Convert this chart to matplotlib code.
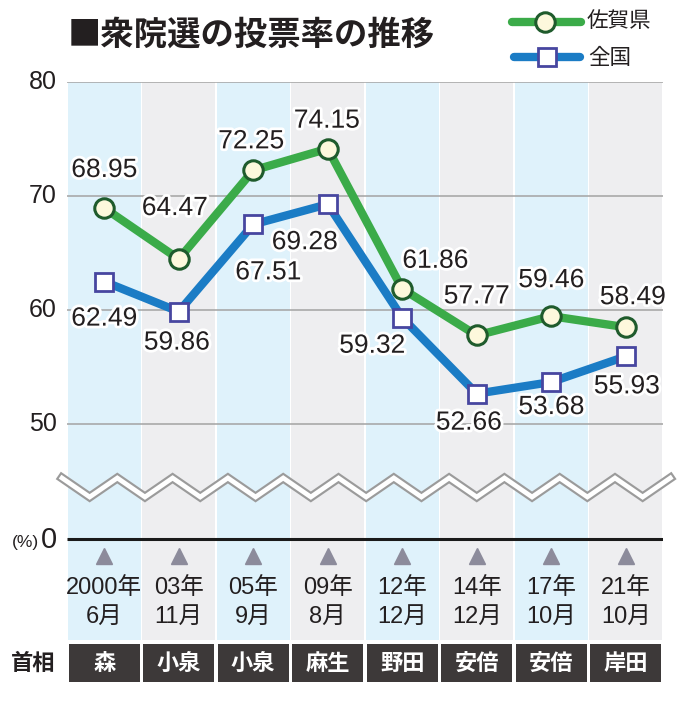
import numpy as np
import matplotlib.pyplot as plt
import matplotlib.patheffects as pe
from matplotlib.lines import Line2D

# ----- data -----
years = ["2000年", "03年", "05年", "09年", "12年", "14年", "17年", "21年"]
months = ["6月", "11月", "9月", "8月", "12月", "12月", "10月", "10月"]
prime_ministers = ["森", "小泉", "小泉", "麻生", "野田", "安倍", "安倍", "岸田"]
saga = [68.95, 64.47, 72.25, 74.15, 61.86, 57.77, 59.46, 58.49]
national = [62.49, 59.86, 67.51, 69.28, 59.32, 52.66, 53.68, 55.93]
y_ticks = [50, 60, 70, 80]

# label offsets from each point, in pixels (dx right, dy down)
saga_offsets = [(0, -38), (-4, -51), (-2, -29), (-1, -28),
                (33, -28), (0, -39), (0, -36), (7, -30)]
national_offsets = [(0, 37), (-2, 31), (15, 48), (-23, 38),
                    (-30, 28), (-8, 29), (0, 25), (1, 30)]

CJK = ["Noto Sans CJK JP", "DejaVu Sans"]
NUM = ["Liberation Sans", "Noto Sans CJK JP", "DejaVu Sans"]
TXT = "#231f20"

# pixel helpers (layout: 80 at y=82 px, 11.4 px per point)
def py(pixel):
    return 80 - (pixel - 82) / 11.4

def px(pixel):
    return (pixel - 67) / 74.5 - 0.5

fig = plt.figure(figsize=(6.8, 7.08), dpi=100)
ax = fig.add_axes([67 / 680, 1 - 682 / 708, 596 / 680, 600 / 708])
ax.set_xlim(-0.5, 7.5)
ax.set_ylim(py(682), 80)
ax.axis("off")

x = np.arange(len(years))

# alternating column backgrounds
col_colors = ["#dff2fb" if i % 2 == 0 else "#eeeef0" for i in x]
ax.bar(x, 80 - py(640), bottom=py(640), width=0.975, color=col_colors, zorder=0)

# prime minister boxes
ax.bar(x, py(644) - py(682), bottom=py(682), width=0.955, color="#3d3939", zorder=0)
for i, name in enumerate(prime_ministers):
    ax.text(i, py(663), name, ha="center", va="center", color="white",
            fontsize=16, fontweight="bold", family=CJK)

# grid lines
ax.hlines(y_ticks, -0.5, 7.5, color="#a3a3a3", lw=1.1, zorder=1)
for v in y_ticks:
    ax.text(px(57), v, str(v), ha="right", va="center", fontsize=18,
            family=NUM, color=TXT)

# zigzag break mark
period = 55.3
zx = [px(62 + k * period / 2) for k in range(23)]
zy = [py(478) if k % 2 == 0 else py(497) for k in range(23)]
ax.plot(zx, zy, color="#9b9b9b", lw=6.5, solid_joinstyle="miter", clip_on=False, zorder=2)
ax.plot(zx, zy, color="white", lw=3.4, solid_joinstyle="miter", clip_on=False, zorder=2)

# zero line
ax.hlines(py(539), -0.5, 7.5, color="#1a1a1a", lw=2.2, zorder=2)
ax.text(px(57), py(548), "0", ha="right", va="baseline", fontsize=21,
        family=NUM, color=TXT)
ax.text(px(39), py(547), "(%)", ha="right", va="baseline", fontsize=12.5,
        family=NUM, color=TXT)

# triangles and dates
ax.plot(x, [py(556)] * len(x), linestyle="none", marker="^", ms=11,
        color="#8c8b9b", zorder=2)
for i in x:
    ax.text(i, py(588), years[i], ha="center", va="center", fontsize=17,
            family=NUM, color=TXT)
    ax.text(i, py(617), months[i], ha="center", va="center", fontsize=17,
            family=NUM, color=TXT)

# lines
ax.plot(x, national, color="#1b7cc5", lw=6, zorder=3, solid_joinstyle="round")
ax.plot(x, national, linestyle="none", marker="s", ms=13, mfc="white",
        mec="#4746a0", mew=2, zorder=4)
ax.plot(x, saga, color="#3bab49", lw=6, zorder=3, solid_joinstyle="round")
ax.plot(x, saga, linestyle="none", marker="o", ms=14, mfc="#fdf8dc",
        mec="#1f5b2c", mew=2.2, zorder=4)

halo = [pe.withStroke(linewidth=4, foreground="white")]
for vals, offs in [(saga, saga_offsets), (national, national_offsets)]:
    for i, v in enumerate(vals):
        dx, dy = offs[i]
        ax.annotate(f"{v:.2f}", (i, v), xytext=(dx * 0.72, -dy * 0.72),
                    textcoords="offset points", ha="center", va="center",
                    fontsize=19, family=NUM, color=TXT, path_effects=halo,
                    zorder=5)

# overlay in pixel coordinates for title and legend
ov = fig.add_axes([0, 0, 1, 1])
ov.set_xlim(0, 680)
ov.set_ylim(708, 0)
ov.axis("off")

ov.text(68, 35, "■衆院選の投票率の推移", ha="left", va="center", fontsize=24,
        fontweight="bold", family=CJK, color=TXT)
ov.text(33, 663, "首相", ha="center", va="center", fontsize=16,
        fontweight="bold", family=CJK, color=TXT)

ov.add_line(Line2D([512, 581], [22, 22], color="#3bab49", lw=6, solid_capstyle="round"))
ov.plot([545], [22], marker="o", ms=14, mfc="#fdf8dc", mec="#1f5b2c", mew=2.2)
ov.text(587, 21, "佐賀県", ha="left", va="center", fontsize=15.5, family=CJK, color=TXT)
ov.add_line(Line2D([514, 580], [57, 57], color="#1b7cc5", lw=6, solid_capstyle="round"))
ov.plot([547], [57], marker="s", ms=13, mfc="white", mec="#4746a0", mew=2)
ov.text(588, 58, "全国", ha="left", va="center", fontsize=15.5, family=CJK, color=TXT)

fig.savefig("out.png", dpi=100, facecolor="white")
